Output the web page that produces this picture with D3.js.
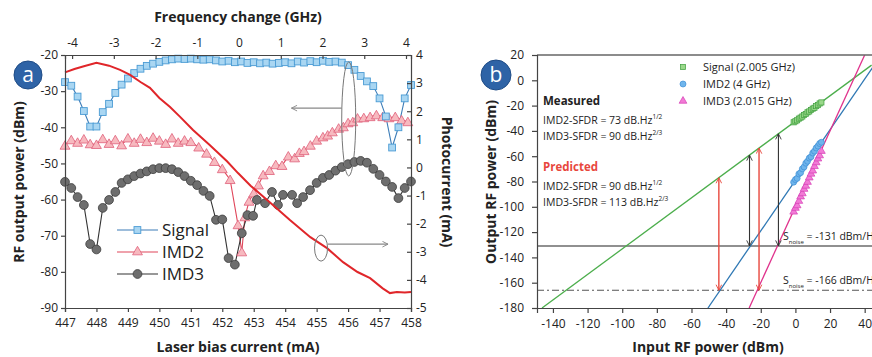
<!DOCTYPE html>
<html>
<head>
<meta charset="utf-8">
<script src="https://cdn.jsdelivr.net/npm/d3@7/dist/d3.min.js"></script>
<style>
    body { margin: 0; background: #fff; }
    svg { display: block; font-family: "Open Sans", sans-serif; }
    .axis path, .axis line { stroke: #444; stroke-width: 1.2; }
    .axis text { font-size: 12px; fill: #222; font-family: "Open Sans", sans-serif; }
    .title { font-weight: bold; font-size: 14px; fill: #222; }
</style>
</head>
<body>
<svg id="chart" width="872" height="357"></svg>
<script>
// ---------- panel a : sweep of laser bias current ----------
var biasTicks = [447, 448, 449, 450, 451, 452, 453, 454, 455, 456, 457, 458];
var freqTicks = [-4, -3, -2, -1, 0, 1, 2, 3, 4];
var powerTicksA = [-20, -30, -40, -50, -60, -70, -80, -90];
var photoTicks = [4, 3, 2, 1, 0, -1, -2, -3, -4, -5];

var signalBias = [447.0, 447.2, 447.4, 447.6, 447.8, 448.0, 448.2, 448.4, 448.6, 448.8, 449.0, 449.2, 449.4, 449.6, 449.8,
    450.0, 450.2, 450.4, 450.6, 450.8, 451.0, 451.2, 451.4, 451.6, 451.8, 452.0, 452.2, 452.4, 452.6, 452.8,
    453.0, 453.2, 453.4, 453.6, 453.8, 454.0, 454.2, 454.4, 454.6, 454.8, 455.0, 455.2, 455.4, 455.6, 455.8,
    456.0, 456.2, 456.4, 456.6, 456.8, 457.0, 457.2, 457.4, 457.6, 457.8, 458.0];
var signalPower = [-27.5, -28.5, -31.5, -35.5, -39.8, -39.8, -35.8, -33.5, -30.5, -28.2, -26.5, -25.0, -23.8, -23.0, -22.4,
    -21.9, -21.5, -21.2, -21.0, -21.1, -21.0, -21.2, -21.3, -21.2, -21.5, -21.8, -21.6, -22.0, -21.8, -22.2,
    -22.0, -22.3, -22.1, -22.4, -22.2, -22.0, -22.3, -21.8, -22.1, -21.7, -22.0, -21.6, -21.9, -21.8, -22.1,
    -22.8, -24.1, -25.8, -27.3, -28.6, -32.0, -37.0, -45.6, -40.0, -32.0, -28.3];

var imd2Bias = [447.0, 447.2, 447.4, 447.6, 447.8, 448.0, 448.2, 448.4, 448.6, 448.8, 449.0, 449.2, 449.4, 449.6, 449.8,
    450.0, 450.2, 450.4, 450.6, 450.8, 451.0, 451.25, 451.5, 451.75, 452.0, 452.25, 452.5, 452.62, 452.72, 452.85,
    453.0, 453.15, 453.3, 453.5, 453.7, 453.9, 454.1, 454.3, 454.45, 454.6, 454.8, 455.0, 455.2, 455.35, 455.5,
    455.7, 455.85, 456.0, 456.15, 456.3, 456.5, 456.7, 456.9, 457.1, 457.3, 457.5, 457.7, 457.9];
var imd2Power = [-45.0, -43.5, -44.2, -43.3, -44.6, -44.8, -43.2, -44.5, -43.5, -44.9, -43.0, -44.2, -43.1, -44.0, -42.8,
    -43.6, -44.5, -43.0, -44.2, -43.6, -44.0, -45.5, -47.2, -49.5, -51.5, -54.5, -67.0, -74.5, -64.8, -60.5,
    -58.2, -56.0, -53.2, -52.0, -50.4, -50.6, -48.0, -48.5, -47.0, -46.5, -45.0, -43.6, -42.7, -42.2, -41.3,
    -40.3, -39.9, -38.8, -38.5, -37.5, -37.4, -37.1, -36.6, -37.1, -37.4, -37.1, -38.0, -38.5];

var imd3Bias = [447.0, 447.2, 447.4, 447.6, 447.8, 448.0, 448.2, 448.4, 448.6, 448.8, 449.0, 449.2, 449.4, 449.6, 449.8,
    450.0, 450.2, 450.4, 450.6, 450.8, 451.0, 451.2, 451.4, 451.6, 451.8, 452.0, 452.2, 452.4, 452.62, 452.8,
    452.98, 453.1, 453.36, 453.58, 453.77, 453.93, 454.22, 454.38, 454.57, 454.79, 455.0, 455.2, 455.4, 455.6, 455.8,
    456.0, 456.2, 456.4, 456.6, 456.8, 457.0, 457.2, 457.4, 457.6, 457.8, 458.0];
var imd3Power = [-55.1, -56.8, -59.3, -61.5, -72.3, -73.8, -62.3, -60.1, -57.9, -55.4, -54.4, -53.5, -52.8, -52.2, -51.6,
    -51.3, -51.3, -51.6, -52.4, -53.5, -54.8, -56.0, -57.6, -59.0, -65.6, -65.5, -76.2, -78.0, -69.3, -64.3,
    -64.5, -60.1, -61.0, -57.9, -61.5, -58.7, -58.7, -61.0, -59.3, -57.4, -55.4, -54.0, -53.2, -52.0, -51.0,
    -50.2, -49.6, -49.3, -49.8, -51.5, -53.2, -55.0, -56.5, -59.6, -56.8, -55.0];

var photoBias = [447.0, 447.3, 447.6, 448.0, 448.4, 448.75, 449.07, 449.4, 449.7, 450.0, 450.34, 450.66, 451.07, 451.6,
    452.15, 452.5, 452.9, 453.5, 454.15, 454.8, 455.33, 455.84, 456.3, 456.7, 457.1, 457.33, 457.55, 457.8, 458.0];
var photoCurrent = [3.38, 3.5, 3.6, 3.72, 3.62, 3.47, 3.29, 3.04, 2.83, 2.47, 2.15, 1.8, 1.33, 0.8,
    0.22, -0.2, -0.65, -1.23, -1.87, -2.48, -2.87, -3.37, -3.72, -3.94, -4.3, -4.47, -4.43, -4.45, -4.43];

// ---------- panel b : SFDR ----------
var inputTicks = [-140, -120, -100, -80, -60, -40, -20, 0, 20, 40];
var outputTicks = [20, 0, -20, -40, -60, -80, -100, -120, -140, -160, -180];

var measInput = [-1, 0, 1, 2, 3, 4, 5, 6, 7, 8, 9, 10, 11, 12, 13, 14, 15];
var measSignal = [-33.2, -32.4, -31.6, -30.3, -29.5, -28.6, -27.4, -26.6, -25.3, -24.6, -23.5, -22.4, -21.7, -20.4, -19.6, -18.3, -17.5];
var measImd2 = [-80.5, -78.5, -77.5, -74.0, -73.0, -70.0, -68.5, -65.5, -64.0, -61.5, -60.5, -57.5, -56.0, -53.5, -52.0, -50.0, -49.0];
var measImd3 = [-104.0, -101.0, -99.0, -95.5, -92.0, -89.5, -86.0, -83.5, -80.5, -77.0, -74.0, -71.5, -68.0, -65.0, -62.0, -59.5, -56.0];

// fitted lines, two points each (input dBm, output dBm)
var signalFitIn = [-146.3, 44], signalFitOut = [-180, 12];
var imd2FitIn = [-50.5, 49.5], imd2FitOut = [-180, 20];
var imd3FitIn = [-26.7, 40], imd3FitOut = [-180, 20];

var noiseMeasured = -131, noisePredicted = -166;
var arrowsMeasured = [-26.5, -9.8];
var arrowsPredicted = [-44.2, -21.0];

var measuredLines = [["IMD2-SFDR = 73 dB.Hz", "1/2"], ["IMD3-SFDR = 90 dB.Hz", "2/3"]];
var predictedLines = [["IMD2-SFDR = 90 dB.Hz", "1/2"], ["IMD3-SFDR = 113 dB.Hz", "2/3"]];
var legendB = ["Signal (2.005 GHz)", "IMD2 (4 GHz)", "IMD3 (2.015 GHz)"];

// plain hyphen minus, as in the figure
var plain = d => String(d);

function init() {
    var svg = d3.select("#chart");
    var defs = svg.append("defs");

    // open chevron arrow heads
    function addHead(id, color) {
        defs.append("marker")
            .attr("id", id)
            .attr("viewBox", "0 0 10 10")
            .attr("refX", 9).attr("refY", 5)
            .attr("markerWidth", 7).attr("markerHeight", 7)
            .attr("markerUnits", "userSpaceOnUse")
            .attr("orient", "auto-start-reverse")
            .append("path")
            .attr("d", "M1,1 L9,5 L1,9")
            .attr("fill", "none")
            .attr("stroke", color)
            .attr("stroke-width", 1.3);
    }
    addHead("headGrey", "#888");
    addHead("headRed", "#e8473d");
    addHead("headBlack", "#333");

    // ================= PANEL A =================
    var xA = d3.scaleLinear().domain([447, 458]).range([65, 411]);
    var fA = d3.scaleLinear().domain([-4.17, 4.12]).range([65, 411]);
    var yA = d3.scaleLinear().domain([-90, -20]).range([308, 55]);
    var pA = d3.scaleLinear().domain([-5, 4]).range([308, 55]);

    var signalData = signalBias.map((b, i) => ({ x: b, y: signalPower[i] }));
    var imd2Data = imd2Bias.map((b, i) => ({ x: b, y: imd2Power[i] }));
    var imd3Data = imd3Bias.map((b, i) => ({ x: b, y: imd3Power[i] }));
    var photoData = photoBias.map((b, i) => ({ x: b, y: photoCurrent[i] }));

    var lineA = d3.line().x(d => xA(d.x)).y(d => yA(d.y));

    svg.append("path").datum(signalData).attr("d", lineA)
        .attr("fill", "none").attr("stroke", "#3d7db8").attr("stroke-width", 1.1);
    svg.append("path").datum(imd2Data).attr("d", lineA)
        .attr("fill", "none").attr("stroke", "#e0465a").attr("stroke-width", 1.1);
    svg.append("path").datum(imd3Data).attr("d", lineA)
        .attr("fill", "none").attr("stroke", "#333").attr("stroke-width", 1.1);

    var tri = d3.symbol().type(d3.symbolTriangle).size(42);

    svg.selectAll(".imd2a").data(imd2Data).enter().append("path")
        .attr("transform", d => `translate(${xA(d.x)},${yA(d.y) + 1})`)
        .attr("d", tri)
        .attr("fill", "#f7b9bf").attr("stroke", "#e0607a").attr("stroke-width", 0.8);

    svg.selectAll(".imd3a").data(imd3Data).enter().append("circle")
        .attr("cx", d => xA(d.x)).attr("cy", d => yA(d.y)).attr("r", 4.4)
        .attr("fill", "#6e6e6e").attr("stroke", "#3c3c3c").attr("stroke-width", 0.8);

    svg.selectAll(".sigA").data(signalData).enter().append("rect")
        .attr("x", d => xA(d.x) - 3.4).attr("y", d => yA(d.y) - 3.4)
        .attr("width", 6.8).attr("height", 6.8)
        .attr("fill", "#a9d6f2").attr("stroke", "#4a9bd4").attr("stroke-width", 0.9);

    // photocurrent (right axis)
    svg.append("path").datum(photoData)
        .attr("d", d3.line().x(d => xA(d.x)).y(d => pA(d.y)))
        .attr("fill", "none").attr("stroke", "#e0262a").attr("stroke-width", 2);

    // annotation ellipses with arrows
    svg.append("ellipse")
        .attr("cx", xA(456.02)).attr("cy", yA(-37.7))
        .attr("rx", 7).attr("ry", 57)
        .attr("fill", "none").attr("stroke", "#777").attr("stroke-width", 1);
    svg.append("line")
        .attr("x1", xA(455.8)).attr("x2", xA(454.2))
        .attr("y1", yA(-34.7)).attr("y2", yA(-34.7))
        .attr("stroke", "#888").attr("stroke-width", 1.2)
        .attr("marker-end", "url(#headGrey)");
    svg.append("ellipse")
        .attr("cx", xA(455.14)).attr("cy", pA(-2.87))
        .attr("rx", 6.5).attr("ry", 13)
        .attr("fill", "none").attr("stroke", "#777").attr("stroke-width", 1);
    svg.append("line")
        .attr("x1", xA(455.36)).attr("x2", xA(457.27))
        .attr("y1", pA(-2.73)).attr("y2", pA(-2.73))
        .attr("stroke", "#888").attr("stroke-width", 1.2)
        .attr("marker-end", "url(#headGrey)");

    // axes of panel a
    svg.append("g").attr("class", "axis")
        .attr("transform", "translate(0,308)")
        .call(d3.axisBottom(xA).tickValues(biasTicks).tickSize(4).tickPadding(6).tickFormat(plain));
    svg.append("g").attr("class", "axis")
        .attr("transform", "translate(65,0)")
        .call(d3.axisLeft(yA).tickValues(powerTicksA).tickSize(4).tickPadding(3).tickFormat(plain));
    svg.append("g").attr("class", "axis")
        .attr("transform", "translate(0,55)")
        .call(d3.axisTop(fA).tickValues(freqTicks).tickSize(-4).tickPadding(8).tickFormat(plain));
    svg.append("g").attr("class", "axis")
        .attr("transform", "translate(411,0)")
        .call(d3.axisRight(pA).tickValues(photoTicks).tickSize(-4).tickPadding(5).tickFormat(plain));
    svg.selectAll(".axis .domain").attr("stroke-width", 1.6);

    // titles
    svg.append("text").attr("class", "title")
        .attr("x", 238).attr("y", 22).attr("text-anchor", "middle")
        .text("Frequency change (GHz)");
    svg.append("text").attr("class", "title")
        .attr("x", 238).attr("y", 352).attr("text-anchor", "middle")
        .text("Laser bias current (mA)");
    svg.append("text").attr("class", "title")
        .attr("transform", "translate(24,182) rotate(-90)").attr("text-anchor", "middle")
        .text("RF output power (dBm)");
    svg.append("text").attr("class", "title")
        .attr("transform", "translate(442,182) rotate(90)").attr("text-anchor", "middle")
        .text("Photocurrent (mA)");

    // legend of panel a
    var legA = [
        { name: "Signal", color: "#3d7db8", y: 230 },
        { name: "IMD2", color: "#e0465a", y: 252 },
        { name: "IMD3", color: "#333", y: 274 }
    ];
    legA.forEach(function (d, i) {
        svg.append("line").attr("x1", 117).attr("x2", 158).attr("y1", d.y).attr("y2", d.y)
            .attr("stroke", d.color).attr("stroke-width", 1.2);
        if (i === 0) {
            svg.append("rect").attr("x", 134).attr("y", d.y - 3.4).attr("width", 6.8).attr("height", 6.8)
                .attr("fill", "#a9d6f2").attr("stroke", "#4a9bd4").attr("stroke-width", 0.9);
        } else if (i === 1) {
            svg.append("path").attr("transform", `translate(137.5,${d.y})`).attr("d", tri)
                .attr("fill", "#f7b9bf").attr("stroke", "#e0607a").attr("stroke-width", 0.8);
        } else {
            svg.append("circle").attr("cx", 137.5).attr("cy", d.y).attr("r", 4.4)
                .attr("fill", "#6e6e6e").attr("stroke", "#3c3c3c").attr("stroke-width", 0.8);
        }
        svg.append("text").attr("x", 162).attr("y", d.y + 6)
            .attr("font-size", "17px").attr("fill", "#222").text(d.name);
    });

    // ================= PANEL B =================
    var xB = d3.scaleLinear().domain([-149.2, 50]).range([537, 882]);
    var yB = d3.scaleLinear().domain([-180, 20]).range([308, 55]);

    defs.append("clipPath").attr("id", "clipB")
        .append("rect").attr("x", 537).attr("y", 55).attr("width", 345).attr("height", 253);

    var plotB = svg.append("g").attr("clip-path", "url(#clipB)");

    // noise floors
    plotB.append("line")
        .attr("x1", 537).attr("x2", 882)
        .attr("y1", yB(noiseMeasured)).attr("y2", yB(noiseMeasured))
        .attr("stroke", "#222").attr("stroke-width", 1.2);
    plotB.append("line")
        .attr("x1", 537).attr("x2", 882)
        .attr("y1", yB(noisePredicted)).attr("y2", yB(noisePredicted))
        .attr("stroke", "#555").attr("stroke-width", 1.1)
        .attr("stroke-dasharray", "7,3,2,3");

    // fitted lines
    var fits = [
        { xs: signalFitIn, ys: signalFitOut, color: "#4cae4c" },
        { xs: imd2FitIn, ys: imd2FitOut, color: "#2f78b4" },
        { xs: imd3FitIn, ys: imd3FitOut, color: "#e0328c" }
    ];
    fits.forEach(function (f) {
        plotB.append("line")
            .attr("x1", xB(f.xs[0])).attr("y1", yB(f.ys[0]))
            .attr("x2", xB(f.xs[1])).attr("y2", yB(f.ys[1]))
            .attr("stroke", f.color).attr("stroke-width", 1.3);
    });

    var sigFit = d3.scaleLinear().domain(signalFitIn).range(signalFitOut);

    // double arrows between noise floor and signal line
    arrowsPredicted.forEach(function (p) {
        plotB.append("line")
            .attr("x1", xB(p)).attr("x2", xB(p))
            .attr("y1", yB(noisePredicted)).attr("y2", yB(sigFit(p)))
            .attr("stroke", "#e8473d").attr("stroke-width", 1.4)
            .attr("marker-start", "url(#headRed)").attr("marker-end", "url(#headRed)");
    });
    arrowsMeasured.forEach(function (p) {
        plotB.append("line")
            .attr("x1", xB(p)).attr("x2", xB(p))
            .attr("y1", yB(noiseMeasured)).attr("y2", yB(sigFit(p)))
            .attr("stroke", "#333").attr("stroke-width", 1.1)
            .attr("marker-start", "url(#headBlack)").attr("marker-end", "url(#headBlack)");
    });

    // measured points
    var triB = d3.symbol().type(d3.symbolTriangle).size(26);
    plotB.selectAll(".imd3b").data(measInput).enter().append("path")
        .attr("transform", (d, i) => `translate(${xB(d)},${yB(measImd3[i])})`)
        .attr("d", triB)
        .attr("fill", "#f27ad6").attr("stroke", "#d63cb4").attr("stroke-width", 0.7);
    plotB.selectAll(".imd2b").data(measInput).enter().append("circle")
        .attr("cx", d => xB(d)).attr("cy", (d, i) => yB(measImd2[i])).attr("r", 3)
        .attr("fill", "#6fb5ec").attr("stroke", "#3f8fd6").attr("stroke-width", 0.7);
    plotB.selectAll(".sigb").data(measInput).enter().append("rect")
        .attr("x", d => xB(d) - 2.6).attr("y", (d, i) => yB(measSignal[i]) - 2.6)
        .attr("width", 5.2).attr("height", 5.2)
        .attr("fill", "#9ad88a").attr("stroke", "#3f9f3f").attr("stroke-width", 0.7);

    // noise labels (run off the right edge as in the figure)
    [noiseMeasured, noisePredicted].forEach(function (n) {
        var t = svg.append("text").attr("x", 783).attr("y", yB(n) - 6)
            .attr("font-size", "10.5px").attr("fill", "#222");
        t.append("tspan").text("S");
        t.append("tspan").attr("font-size", "6px").attr("dy", 4).text("noise");
        t.append("tspan").attr("dy", -4).text(" = " + n + " dBm/Hz");
    });

    // text block
    function sfdrBlock(title, color, lines, y0) {
        svg.append("text").attr("x", 543).attr("y", y0)
            .attr("font-size", "11.5px").attr("font-weight", "bold").attr("fill", color)
            .text(title);
        lines.forEach(function (l, i) {
            var t = svg.append("text").attr("x", 543).attr("y", y0 + 19 + i * 16)
                .attr("font-size", "10.5px").attr("fill", "#222");
            t.append("tspan").text(l[0]);
            t.append("tspan").attr("font-size", "6.5px").attr("dy", -5).text(l[1]);
        });
    }
    sfdrBlock("Measured", "#222", measuredLines, 105);
    sfdrBlock("Predicted", "#e8473d", predictedLines, 171);

    // legend of panel b
    legendB.forEach(function (name, i) {
        var ly = 67 + i * 17;
        if (i === 0) {
            svg.append("rect").attr("x", 680.4).attr("y", ly - 2.6).attr("width", 5.2).attr("height", 5.2)
                .attr("fill", "#9ad88a").attr("stroke", "#3f9f3f").attr("stroke-width", 0.7);
        } else if (i === 1) {
            svg.append("circle").attr("cx", 683).attr("cy", ly).attr("r", 3)
                .attr("fill", "#6fb5ec").attr("stroke", "#3f8fd6").attr("stroke-width", 0.7);
        } else {
            svg.append("path").attr("transform", `translate(683,${ly})`).attr("d", triB)
                .attr("fill", "#f27ad6").attr("stroke", "#d63cb4").attr("stroke-width", 0.7);
        }
        svg.append("text").attr("x", 703).attr("y", ly + 4)
            .attr("font-size", "11px").attr("fill", "#222").text(name);
    });

    // axes of panel b
    svg.append("line").attr("x1", 537).attr("x2", 872).attr("y1", 55).attr("y2", 55)
        .attr("stroke", "#666").attr("stroke-width", 1.4);
    svg.append("g").attr("class", "axis")
        .attr("transform", "translate(0,308)")
        .call(d3.axisBottom(xB).tickValues(inputTicks).tickSize(5).tickPadding(6).tickFormat(plain));
    svg.append("g").attr("class", "axis")
        .attr("transform", "translate(537,0)")
        .call(d3.axisLeft(yB).tickValues(outputTicks).tickSize(5).tickPadding(8).tickFormat(plain));
    svg.selectAll(".axis .domain").attr("stroke-width", 1.6);

    svg.append("text").attr("class", "title")
        .attr("x", 708).attr("y", 352).attr("text-anchor", "middle")
        .text("Input RF power (dBm)");
    svg.append("text").attr("class", "title")
        .attr("transform", "translate(496,182) rotate(-90)").attr("text-anchor", "middle")
        .text("Output RF power (dBm)");

    // panel badges
    [{ x: 28, y: 75, r: 14, label: "a" }, { x: 496, y: 75, r: 15, label: "b" }].forEach(function (b) {
        svg.append("circle").attr("cx", b.x).attr("cy", b.y).attr("r", b.r)
            .attr("fill", "#2e63a6").attr("stroke", "#1f4c86").attr("stroke-width", 1);
        svg.append("text").attr("x", b.x).attr("y", b.y + 7).attr("text-anchor", "middle")
            .attr("font-size", "21px").attr("fill", "#fff").text(b.label);
    });
}

window.onload = init;
</script>
</body>
</html>
